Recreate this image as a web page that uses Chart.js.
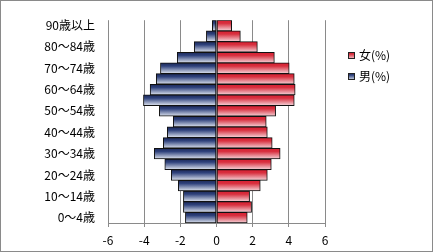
<!DOCTYPE html>
<html>
<head>
<meta charset="utf-8">
<script src="https://cdn.jsdelivr.net/npm/chart.js@4/dist/chart.umd.min.js"></script>
<style>
html,body{margin:0;padding:0;background:#fff;}
canvas{display:block;}
</style>
</head>
<body>
<canvas id="c" width="433" height="252"></canvas>
<script>
// Age groups, bottom to top
const categories = ["0～4歳","5～9歳","10～14歳","15～19歳","20～24歳","25～29歳","30～34歳","35～39歳","40～44歳","45～49歳","50～54歳","55～59歳","60～64歳","65～69歳","70～74歳","75～79歳","80～84歳","85～89歳","90歳以上"];
// Female share (%)
const femaleValues = [1.70,1.94,1.83,2.42,2.81,3.03,3.52,3.08,2.81,2.75,3.27,4.30,4.35,4.30,4.02,3.20,2.26,1.32,0.84];
// Male share (%), drawn to the left as negative values
const maleValues = [-1.72,-1.83,-1.83,-2.11,-2.50,-2.86,-3.44,-2.94,-2.72,-2.39,-3.16,-4.04,-3.67,-3.33,-3.10,-2.17,-1.23,-0.56,-0.23];
const seriesNames = ["女(%)","男(%)"];
const xTicks = [-6,-4,-2,0,2,4,6];

const FONT = "'Noto Sans CJK JP','Noto Sans',sans-serif";

function barGradient(ctx, stops, fallback){
  const chart = ctx.chart;
  if (!chart.chartArea || !chart.scales.y) return fallback;
  const y = chart.scales.y;
  const yc = y.getPixelForValue(ctx.dataIndex);
  const half = Math.abs(y.getPixelForValue(1) - y.getPixelForValue(0)) / 2;
  const g = chart.ctx.createLinearGradient(0, yc - half, 0, yc + half);
  stops.forEach(s => g.addColorStop(s[0], s[1]));
  return g;
}
const redStops = [[0,'#d81e30'],[0.3,'#d8303f'],[1,'#f5d5da']];
const blueStops = [[0,'#1b2858'],[0.3,'#2f427c'],[1,'#dfe5f0']];

function legendFill(ctx2, x, y, h, stops){
  const g = ctx2.createLinearGradient(0, y, 0, y + h);
  stops.forEach(s => g.addColorStop(s[0], s[1]));
  return g;
}

const framePlugin = {
  id: 'frame',
  beforeDraw(chart){
    const c = chart.ctx;
    c.save();
    c.fillStyle = '#ffffff';
    c.fillRect(0,0,chart.width,chart.height);
    c.restore();
  },
  afterDraw(chart){
    const c = chart.ctx;
    c.save();
    c.strokeStyle = '#8a8a8a';
    c.lineWidth = 1;
    c.strokeRect(0.5,0.5,chart.width-1,chart.height-1);
    // legend
    const items = [
      {name: seriesNames[0], stops: redStops, y: 52},
      {name: seriesNames[1], stops: blueStops, y: 73}
    ];
    c.font = "12px " + FONT;
    c.textBaseline = 'middle';
    c.textAlign = 'left';
    items.forEach(it => {
      c.fillStyle = legendFill(c, 348, it.y, 7, it.stops);
      c.fillRect(348, it.y, 7, 7);
      c.strokeStyle = '#222';
      c.strokeRect(348.5, it.y + 0.5, 6, 6);
      c.fillStyle = '#000';
      c.fillText(it.name, 359, it.y + 3);
    });
    c.restore();
  }
};

new Chart(document.getElementById('c'), {
  type: 'bar',
  data: {
    labels: categories,
    datasets: [
      {
        label: seriesNames[0],
        data: femaleValues,
        backgroundColor: ctx => barGradient(ctx, redStops, '#d8303f'),
        borderColor: '#111',
        borderWidth: 1,
        borderSkipped: false,
        barPercentage: 1,
        categoryPercentage: 1
      },
      {
        label: seriesNames[1],
        data: maleValues,
        backgroundColor: ctx => barGradient(ctx, blueStops, '#2f427c'),
        borderColor: '#111',
        borderWidth: 1,
        borderSkipped: false,
        barPercentage: 1,
        categoryPercentage: 1
      }
    ]
  },
  options: {
    indexAxis: 'y',
    responsive: false,
    animation: false,
    devicePixelRatio: 1,
    layout: { padding: { top: 15, right: 108, bottom: 0, left: 0 } },
    plugins: { legend: { display: false }, tooltip: { enabled: false } },
    scales: {
      x: {
        stacked: true,
        min: -6, max: 6,
        afterBuildTicks: s => { s.ticks = xTicks.map(v => ({value: v})); },
        afterFit: s => { s.height = 29; },
        grid: { color: '#8a8a8a', lineWidth: 1, tickLength: 4, drawTicks: true, tickColor: '#8a8a8a' },
        border: { display: true, color: '#8a8a8a' },
        ticks: { color: '#000', font: { family: FONT, size: 12 }, padding: 6, maxRotation: 0 }
      },
      y: {
        stacked: true,
        reverse: true,
        afterFit: s => { s.width = 108; },
        grid: { display: false, drawTicks: false },
        border: { display: false },
        ticks: {
          autoSkip: false,
          color: '#000',
          font: { family: FONT, size: 12 },
          padding: 13,
          callback: function(v, i){ return i % 2 === 0 ? this.getLabelForValue(v) : ''; }
        }
      }
    }
  },
  plugins: [framePlugin]
});
</script>
</body>
</html>
